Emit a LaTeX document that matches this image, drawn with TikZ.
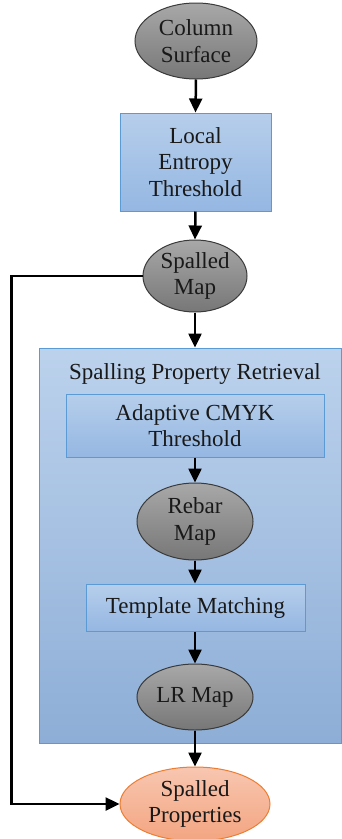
\documentclass[tikz,border=0pt]{standalone}
\usepackage{fontspec}
\setmainfont{Liberation Serif}
\usetikzlibrary{shapes.geometric,arrows.meta,shadings}
\definecolor{grayTop}{HTML}{A8A8A8}
\definecolor{grayBot}{HTML}{777777}
\definecolor{grayEdge}{HTML}{3A3A3A}
\definecolor{blueTop}{HTML}{B6CEEB}
\definecolor{blueBot}{HTML}{95B7E2}
\definecolor{blueEdge}{HTML}{5B9BD5}
\definecolor{orangeTop}{HTML}{F8C6B0}
\definecolor{orangeBot}{HTML}{F3A581}
\definecolor{orangeEdge}{HTML}{ED7D31}
\tikzset{
  every node/.style={font=\fontsize{23}{26.5}\selectfont, text=black!90, align=center, inner sep=0pt},
  mapnode/.style={ellipse, draw=grayEdge, line width=1pt, top color=grayTop, bottom color=grayBot},
  procbox/.style={rectangle, draw=blueEdge, line width=1pt, top color=blueTop, bottom color=blueBot},
  groupbox/.style={rectangle, draw=blueEdge, line width=1pt, top color=blueTop!92!white, bottom color=blueBot!95!black},
  outnode/.style={ellipse, draw=orangeEdge, line width=1pt, top color=orangeTop, bottom color=orangeBot},
  flow/.style={line width=2.5pt, -{Triangle[width=13pt,length=14pt]}},
}
\begin{document}
\begin{tikzpicture}[x=1pt,y=-1pt]
\useasboundingbox (0,0) rectangle (342,839);

% container of the retrieval stage
\node[groupbox, minimum width=302, minimum height=395] (group) at (190,545.5) {};
\node (gtitle) at (195,374) {Spalling Property Retrieval};

% main chain
\node[mapnode, minimum width=122, minimum height=76] (surface) at (196,41) {Column\\Surface};
\node[procbox, minimum width=151, minimum height=98] (entropy) at (195.5,162) {Local\\Entropy\\Threshold};
\node[mapnode, minimum width=104, minimum height=72] (spalled) at (195,276) {Spalled\\Map};

% inside the retrieval stage
\node[procbox, minimum width=258, minimum height=63] (cmyk) at (195,425.5) {Adaptive CMYK\\Threshold};
\node[mapnode, minimum width=116, minimum height=77] (rebar) at (195,521.5) {Rebar\\Map};
\node[procbox, minimum width=219, minimum height=47] (template) at (195.5,607.5) {Template Matching};
\node[mapnode, minimum width=116, minimum height=66] (lr) at (195,697) {LR Map};

% result
\node[outnode, minimum width=150, minimum height=74] (props) at (195,804) {Spalled\\Properties};

% connectors
\draw[flow] (surface.south) -- (entropy.north);
\draw[flow] (entropy.south) -- (spalled.north);
\draw[flow] (spalled.south) -- (spalled.south |- group.north);
\draw[flow] (cmyk.south) -- (rebar.north);
\draw[flow] (rebar.south) -- (rebar.south |- template.north);
\draw[flow] (rebar.south |- template.south) -- (lr.north);
\draw[flow] (lr.south) -- (props.north);
\draw[flow] (spalled.west) -- ++(-131,0) |- (props.west);
\end{tikzpicture}
\end{document}
